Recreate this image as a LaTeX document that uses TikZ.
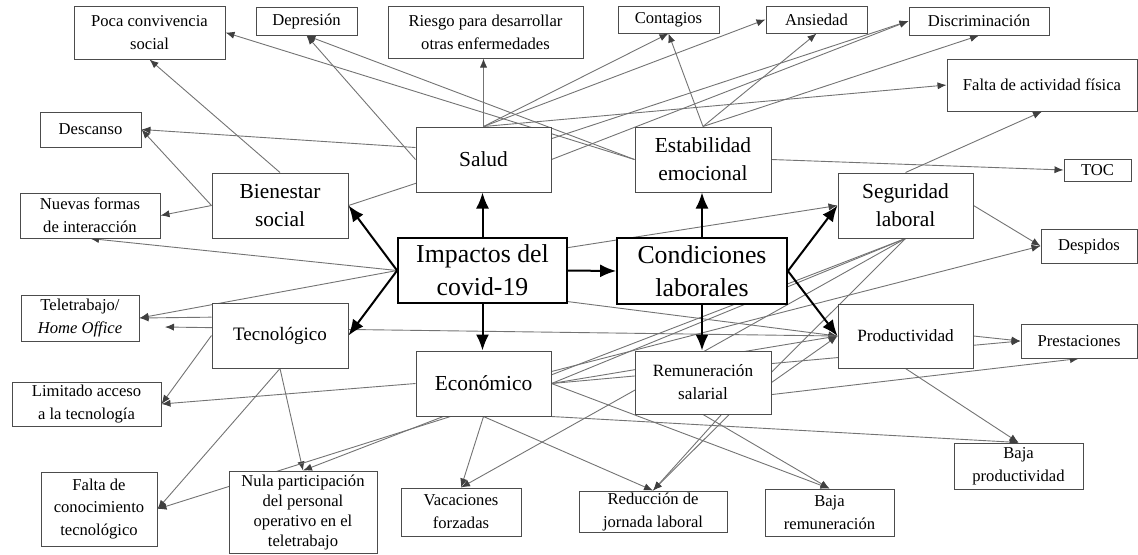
\documentclass[tikz,border=0pt]{standalone}
\usepackage{fontspec}
\setmainfont{Liberation Serif}
\usetikzlibrary{arrows.meta}
\usetikzlibrary{backgrounds}
\tikzset{caja/.style = {draw=black!70, fill=white, line width=0.5pt, align=center, inner sep=0pt,
                        font=\fontsize{8.3}{11.5}\selectfont}}
\tikzset{cajamed/.style = {caja, font=\fontsize{10.7}{14}\selectfont}}
\tikzset{cajagrande/.style = {caja, draw=black, line width=0.9pt,
                              font=\fontsize{12.9}{16.5}\selectfont}}
\tikzset{liga/.style = {draw=black!55, line width=0.45pt,
                        -{Latex[length=4.5pt, width=3.6pt, color=black!75]}}}
\tikzset{lazo/.style = {draw=black!55, line width=0.45pt}}
\tikzset{eje/.style = {draw=black, line width=1pt, -{Latex[length=8pt, width=6.5pt]}}}

\begin{document}
\begin{tikzpicture}[x=0.5pt, y=-0.5pt]
    \useasboundingbox (0, 0) rectangle (1138, 554);

    \node [caja, minimum width=75.5pt, minimum height=26.5pt] (poca) at (149.5, 32.5) {Poca convivencia\\social};
    \node [caja, minimum width=50.5pt, minimum height=14pt] (depresion) at (306.5, 21) {Depresión};
    \node [caja, minimum width=97.5pt, minimum height=26pt] (riesgo) at (485.5, 32) {Riesgo para desarrollar\\otras enfermedades};
    \node [caja, minimum width=50.5pt, minimum height=13.5pt] (contagios) at (668.5, 19.5) {Contagios};
    \node [caja, minimum width=50.5pt, minimum height=13.5pt] (ansiedad) at (816.5, 19.5) {Ansiedad};
    \node [caja, minimum width=70pt, minimum height=14pt] (discrim) at (979, 21) {Discriminación};
    \node [caja, minimum width=95pt, minimum height=26pt] (fisica) at (1042, 85) {Falta de actividad física};
    \node [caja, minimum width=50.5pt, minimum height=17.5pt] (descanso) at (90.5, 129.5) {Descanso};
    \node [cajamed, minimum width=67.5pt, minimum height=32.5pt] (salud) at (483.5, 159.5) {Salud};
    \node [cajamed, minimum width=68pt, minimum height=32.5pt] (estab) at (703, 159.5) {Estabilidad\\emocional};
    \node [caja, minimum width=33.5pt, minimum height=11pt] (toc) at (1097.5, 170) {TOC};
    \node [cajamed, minimum width=68pt, minimum height=32.5pt] (bien) at (280, 205.5) {Bienestar\\social};
    \node [caja, minimum width=70pt, minimum height=22.5pt] (nuevas) at (90, 215.5) {Nuevas formas\\de interacción};
    \node [cajamed, minimum width=67.5pt, minimum height=32.5pt] (segur) at (905.5, 205.5) {Seguridad\\laboral};
    \node [cajagrande, minimum width=84.5pt, minimum height=32.5pt] (impactos) at (482.5, 270.5) {Impactos del\\covid-19};
    \node [cajagrande, minimum width=85pt, minimum height=33pt] (cond) at (702, 271) {Condiciones\\laborales};
    \node [caja, minimum width=48pt, minimum height=17pt] (despidos) at (1089, 246) {Despidos};
    \node [caja, minimum width=59pt, minimum height=23pt] (tele) at (80, 318) {Teletrabajo/\\\textit{Home Office}};
    \node [cajamed, font=\fontsize{9.5}{12}\selectfont, minimum width=68pt, minimum height=32.5pt] (tecno) at (280, 335.5) {Tecnológico};
    \node [caja, font=\fontsize{8.6}{11.5}\selectfont, minimum width=67.5pt, minimum height=32pt] (prod) at (905.5, 336) {Productividad};
    \node [caja, minimum width=58pt, minimum height=17pt] (prest) at (1079, 341) {Prestaciones};
    \node [cajamed, minimum width=67.5pt, minimum height=32.5pt] (econ) at (483.5, 383.5) {Económico};
    \node [caja, font=\fontsize{8.6}{11.5}\selectfont, minimum width=68pt, minimum height=31.5pt] (remu) at (703, 382.5) {Remuneración\\salarial};
    \node [caja, minimum width=74.5pt, minimum height=22pt] (limitado) at (86.5, 404) {Limitado acceso\\a la tecnología};
    \node [caja, minimum width=64.5pt, minimum height=23pt] (bajaprod) at (1018.5, 466) {Baja\\productividad};
    \node [caja, font=\fontsize{8.3}{11.2}\selectfont, minimum width=58pt, minimum height=37pt] (conoc) at (99, 509) {Falta de\\conocimiento\\tecnológico};
    \node [caja, font=\fontsize{8.3}{10}\selectfont, minimum width=74pt, minimum height=41pt] (nula) at (303, 512) {Nula participación\\del personal\\operativo en el\\teletrabajo};
    \node [caja, minimum width=60pt, minimum height=24pt] (vacaciones) at (461, 512) {Vacaciones\\forzadas};
    \node [caja, minimum width=74pt, minimum height=20.5pt] (reduccion) at (653, 511.5) {Reducción de\\jornada laboral};
    \node [caja, minimum width=64.5pt, minimum height=23.5pt] (bajarem) at (829.5, 512.5) {Baja\\remuneración};
    \coordinate (telefin) at (165, 327);

    \begin{scope}[on background layer]
        \draw [liga] (bien.north) -- (poca.south);
        \draw [liga] (bien.west) -- (descanso.east);
        \draw [liga] (bien.west) -- (nuevas.east);
        \draw [liga] (bien.east) -- (discrim.west);

        \draw [liga] (salud.north) -- (salud.north |- riesgo.south);
        \draw [liga] (salud.west) -- (depresion.south);
        \draw [liga] (salud.170) -- (descanso.east);
        \draw [liga] (salud.north) -- (contagios.south);
        \draw [liga] (salud.north) -- (ansiedad.west);
        \draw [liga] (salud.east) -- (discrim.west);
        \draw [liga] (salud.north) -- (fisica.west);

        \draw [liga] (estab.west) -- (poca.east);
        \draw [liga] (estab.west) -- (depresion.south);
        \draw [liga] (estab.north) -- (contagios.south);
        \draw [liga] (estab.north) -- (ansiedad.south);
        \draw [liga] (estab.north) -- (discrim.south);
        \draw [liga] (estab.east) -- (toc.west);

        \draw [liga] (impactos.west) -- (nuevas.south);
        \draw [liga] (impactos.west) -- (tele.east);
        \draw [liga] (impactos.15) -- (segur.west);
        \draw [liga] (impactos.-20) -- (prod.west);

        \draw [liga] (tecno.165) -- (tele.east);
        \draw [liga] (tecno.west) -- (limitado.east);
        \draw [liga] (tecno.south) -- (conoc.east);
        \draw [liga] (tecno.south) -- (nula.north);

        \draw [liga] (econ.west) -- (limitado.east);
        \draw [liga] (econ.225) -- (conoc.east);
        \draw [liga] (econ.south) -- (vacaciones.north);
        \draw [liga] (econ.south) -- (reduccion.north);
        \draw [liga] (econ.east) -- (bajarem.north);
        \draw [liga] (econ.south east) -- (bajaprod.north);
        \draw [liga] (econ.east) -- (prest.west);
        \draw [liga] (econ.10) -- (despidos.west);
        \draw [liga] (econ.east) -- (prod.west);

        \draw [liga] (remu.-60) -- (reduccion.north);
        \draw [liga] (remu.south) -- (bajarem.north);
        \draw [liga] (remu.east) -- (prod.west);
        \draw [liga] (remu.-10) -- (prest.south);

        \draw [liga] (segur.north) -- (fisica.south);
        \draw [liga] (segur.east) -- (despidos.west);
        \draw [liga] (segur.south) -- (nula.north);
        \draw [liga] (segur.south) -- (reduccion.north);
        \draw [liga] (segur.south) -- (vacaciones.north);
        \draw [lazo] (segur.south) -- (econ.east);

        \draw [liga] (prod.east) -- (prest.west);
        \draw [liga] (prod.south) -- (bajaprod.north);
        \draw [liga] (prod.west) -- (telefin);
    \end{scope}

    \draw [eje] (impactos.north) -- (impactos.north |- salud.south);
    \draw [eje] (impactos.west) -- (bien.east);
    \draw [eje] (impactos.west) -- (tecno.east);
    \draw [eje] (impactos.south) -- (impactos.south |- econ.north);
    \draw [eje] (impactos.east) -- (cond.west);
    \draw [eje] (cond.north) -- (cond.north |- estab.south);
    \draw [eje] (cond.east) -- (segur.west);
    \draw [eje] (cond.east) -- (prod.west);
    \draw [eje] (cond.south) -- (cond.south |- remu.north);
\end{tikzpicture}
\end{document}
